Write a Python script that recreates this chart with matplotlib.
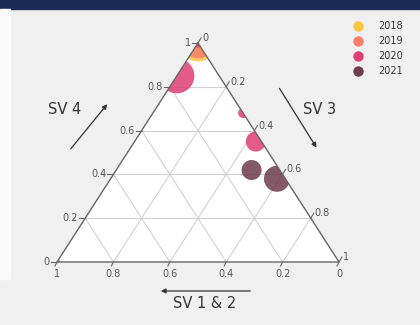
import numpy as np
import matplotlib
matplotlib.use('Agg')
import matplotlib.pyplot as plt
from matplotlib.patches import Polygon, Rectangle

# data: ternary coordinates (SV 4 = a, SV 1 & 2 = b, SV 3 = c), marker diameter in px
years = ['2018', '2019', '2020', '2021']
colors = ['#fdc441', '#fe7f68', '#df3f74', '#6e3c4c']

pt_year = ['2018', '2018', '2019', '2020', '2020', '2020', '2020', '2020', '2021', '2021']
sv4 = [1.00, 0.72, 1.00, 1.00, 0.85, 0.68, 0.55, 0.00, 0.42, 0.38]
sv12 = [0.00, 0.28, 0.00, 0.00, 0.15, 0.00, 0.02, 1.00, 0.10, 0.03]
sv3 = [0.00, 0.00, 0.00, 0.00, 0.00, 0.32, 0.43, 0.00, 0.48, 0.59]
size = [37, 3, 31, 9, 35, 10, 20, 6, 20, 26]

ticks = [0, 0.2, 0.4, 0.6, 0.8, 1]
tick_labels = ['0', '0.2', '0.4', '0.6', '0.8', '1']

# triangle corners in pixel space (top = SV4, bottom-left = SV1&2, bottom-right = SV3)
A = np.array([198.0, 43.0])
B = np.array([57.0, 262.0])
C = np.array([339.0, 262.0])


def to_xy(a, b, c):
    a, b, c = np.asarray(a), np.asarray(b), np.asarray(c)
    s = a + b + c
    p = (np.outer(a, A) + np.outer(b, B) + np.outer(c, C)) / s[:, None]
    return p[:, 0], p[:, 1]


fig = plt.figure(figsize=(4.2, 3.25), dpi=100, facecolor='#f0f0f0')
ax = fig.add_axes([0, 0, 1, 1])
ax.set_xlim(0, 420)
ax.set_ylim(325, 0)
ax.axis('off')

ax.add_patch(Rectangle((0, 0), 420, 9, color='#1b2a57', zorder=0))
ax.add_patch(Rectangle((0, 9), 10, 270, color='#fbfbfb', zorder=0))

tri = Polygon([A, B, C], closed=True, facecolor='white', edgecolor='none', zorder=1)
ax.add_patch(tri)

# grid lines
grid_kw = dict(color='#d2d2d2', lw=0.8, zorder=2)
for t in ticks[1:-1]:
    x, y = to_xy([t, t], [1 - t, 0], [0, 1 - t])
    ax.plot(x, y, **grid_kw)
    x, y = to_xy([1 - t, 0], [t, t], [0, 1 - t])
    ax.plot(x, y, **grid_kw)
    x, y = to_xy([1 - t, 0], [0, 1 - t], [t, t])
    ax.plot(x, y, **grid_kw)

# points, clipped to the triangle
for yr, col in zip(years, colors):
    idx = [i for i, v in enumerate(pt_year) if v == yr]
    x, y = to_xy([sv4[i] for i in idx], [sv12[i] for i in idx], [sv3[i] for i in idx])
    s = [(size[i] * 0.72) ** 2 for i in idx]
    sc = ax.scatter(x, y, s=s, color=col, alpha=0.85, edgecolors='none', zorder=3)
    sc.set_clip_path(tri)

# triangle edges
ex, ey = to_xy([1, 0, 0, 1], [0, 1, 0, 0], [0, 0, 1, 0])
ax.plot(ex, ey, color='#666666', lw=1.0, zorder=4)

# ticks and tick labels
lab_kw = dict(fontsize=7, color='#555555', zorder=5)
for t, lab in zip(ticks, tick_labels):
    # SV 4 (left edge)
    x, y = to_xy([t], [1 - t], [0])
    ax.plot([x[0] - 6, x[0]], [y[0], y[0]], color='#666666', lw=0.8)
    ax.text(x[0] - 7, y[0], lab, ha='right', va='center', **lab_kw)
    # SV 3 (right edge)
    x, y = to_xy([1 - t], [0], [t])
    ax.plot([x[0], x[0] + 3], [y[0], y[0] - 5], color='#666666', lw=0.8)
    ax.text(x[0] + 4, y[0] - 5, lab, ha='left', va='center', **lab_kw)
    # SV 1 & 2 (bottom edge)
    x, y = to_xy([0], [t], [1 - t])
    ax.plot([x[0], x[0] - 2], [y[0], y[0] + 4], color='#666666', lw=0.8)
    ax.text(x[0], y[0] + 12, lab, ha='center', va='center', **lab_kw)

# axis titles and arrows
title_kw = dict(fontsize=10.5, color='#333333', ha='center', va='center')
ax.text(65, 110, 'SV 4', **title_kw)
ax.text(320, 110, 'SV 3', **title_kw)
ax.text(205, 303, 'SV 1 & 2', **title_kw)
arrow_kw = dict(arrowstyle='-|>', color='#333333', lw=0.9, mutation_scale=7)
ax.annotate('', xy=(109, 102), xytext=(69, 151), arrowprops=arrow_kw)
ax.annotate('', xy=(318, 150), xytext=(278, 86), arrowprops=arrow_kw)
ax.annotate('', xy=(158, 291), xytext=(253, 291), arrowprops=arrow_kw)

# legend
for i, (yr, col) in enumerate(zip(years, colors)):
    ax.plot(358, 26 + 15 * i, 'o', ms=7.5, color=col, mec='none')
    ax.text(378, 26 + 15 * i, yr, fontsize=7, color='#333333', va='center', ha='left')

fig.savefig('out.png', dpi=100, facecolor=fig.get_facecolor())
